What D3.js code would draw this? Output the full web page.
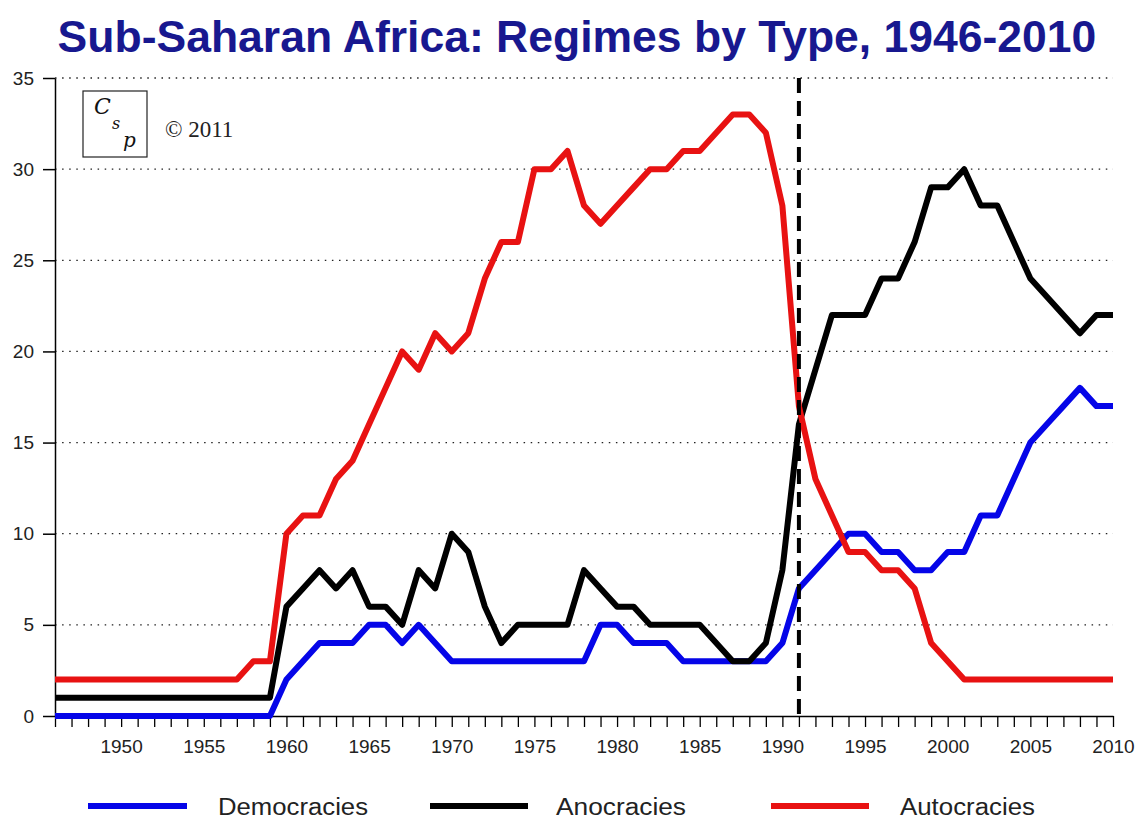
<!DOCTYPE html>
<html>
<head>
<meta charset="utf-8">
<script src="https://cdn.jsdelivr.net/npm/d3@7"></script>
<style>
  html, body { margin: 0; padding: 0; background: #fff; }
  svg { display: block; }
</style>
</head>
<body>
<svg id="chart" width="1136" height="820"></svg>
<script>
// ---- DATA ----
const years = [1946,1947,1948,1949,1950,1951,1952,1953,1954,1955,1956,1957,1958,1959,
  1960,1961,1962,1963,1964,1965,1966,1967,1968,1969,
  1970,1971,1972,1973,1974,1975,1976,1977,1978,1979,
  1980,1981,1982,1983,1984,1985,1986,1987,1988,1989,
  1990,1991,1992,1993,1994,1995,1996,1997,1998,1999,
  2000,2001,2002,2003,2004,2005,2006,2007,2008,2009,2010];

const democracies = [0,0,0,0,0,0,0,0,0,0,0,0,0,0,
  2,3,4,4,4,5,5,4,5,4,
  3,3,3,3,3,3,3,3,3,5,
  5,4,4,4,3,3,3,3,3,3,
  4,7,8,9,10,10,9,9,8,8,
  9,9,11,11,13,15,16,17,18,17,17];

const anocracies = [1,1,1,1,1,1,1,1,1,1,1,1,1,1,
  6,7,8,7,8,6,6,5,8,7,
  10,9,6,4,5,5,5,5,8,7,
  6,6,5,5,5,5,4,3,3,4,
  8,16,19,22,22,22,24,24,26,29,
  29,30,28,28,26,24,23,22,21,22,22];

const autocracies = [2,2,2,2,2,2,2,2,2,2,2,2,3,3,
  10,11,11,13,14,16,18,20,19,21,
  20,21,24,26,26,30,30,31,28,27,
  28,29,30,30,31,31,32,33,33,32,
  28,17,13,11,9,9,8,8,7,4,
  3,2,2,2,2,2,2,2,2,2,2];

const seriesNames = ["Democracies", "Anocracies", "Autocracies"];
const seriesColors = ["#0505e8", "#000000", "#e81212"];
const yTicks = [0, 5, 10, 15, 20, 25, 30, 35];
const xLabelYears = [1950, 1955, 1960, 1965, 1970, 1975, 1980, 1985, 1990, 1995, 2000, 2005, 2010];
const markerYear = 1991;
const titleText = "Sub-Saharan Africa: Regimes by Type, 1946-2010";
const copyrightText = "\u00A9 2011";
const logoLetters = ["C", "s", "p"];

// ---- LAYOUT ----
const svg = d3.select("#chart");
svg.append("rect").attr("width", 1136).attr("height", 820).attr("fill", "#fff");

const x = d3.scaleLinear().domain([1946, 2010]).range([55, 1113]);
const y = d3.scaleLinear().domain([0, 35]).range([716, 78]);

// Title
const title = svg.append("text")
  .attr("x", 577).attr("y", 52)
  .attr("text-anchor", "middle")
  .attr("font-family", "Arial, 'Liberation Sans', sans-serif")
  .attr("font-weight", "bold")
  .attr("font-size", 40)
  .attr("fill", "#18188f")
  .text(titleText);
const tw = title.node().getComputedTextLength();
title.attr("font-size", 40 * 1039 / tw);

// Gridlines (dotted)
svg.append("g").selectAll("line")
  .data(yTicks.filter(d => d > 0))
  .join("line")
  .attr("x1", x(1946)).attr("x2", x(2010))
  .attr("y1", d => y(d)).attr("y2", d => y(d))
  .attr("stroke", "#222")
  .attr("stroke-width", 1.3)
  .attr("stroke-dasharray", "1.5,5.6");

// Y axis
const yAxis = d3.axisLeft(y).tickValues(yTicks).tickSize(12).tickSizeOuter(0).tickPadding(9);
const gy = svg.append("g").attr("transform", `translate(${x(1946)},0)`).call(yAxis);
gy.select(".domain").attr("stroke", "#000").attr("stroke-width", 1.5);
gy.selectAll(".tick line").attr("stroke", "#000").attr("stroke-width", 1.5);
gy.selectAll(".tick text")
  .attr("font-family", "Arial, 'Liberation Sans', sans-serif")
  .attr("font-size", 19).attr("fill", "#222");

// X axis
const xAxis = d3.axisBottom(x).tickValues(years).tickSize(11).tickSizeOuter(0).tickPadding(12.5)
  .tickFormat(d => xLabelYears.includes(d) ? String(d) : "");
const gx = svg.append("g").attr("transform", `translate(0,${y(0)})`).call(xAxis);
gx.select(".domain").attr("stroke", "#000").attr("stroke-width", 1.5);
gx.selectAll(".tick line").attr("stroke", "#000").attr("stroke-width", 1.3);
gx.selectAll(".tick text")
  .attr("font-family", "Arial, 'Liberation Sans', sans-serif")
  .attr("font-size", 19).attr("fill", "#222");

// Lines
const allSeries = [democracies, anocracies, autocracies];
const line = d3.line().x((d, i) => x(years[i])).y(d => y(d));
svg.append("g").selectAll("path")
  .data(allSeries)
  .join("path")
  .attr("d", d => line(d))
  .attr("fill", "none")
  .attr("stroke", (d, i) => seriesColors[i])
  .attr("stroke-width", 6)
  .attr("stroke-linejoin", "round");

// Dashed marker line
svg.append("line")
  .attr("x1", x(markerYear)).attr("x2", x(markerYear))
  .attr("y1", y(35)).attr("y2", y(0))
  .attr("stroke", "#000")
  .attr("stroke-width", 4)
  .attr("stroke-dasharray", "15,8");

// Logo box
const logo = svg.append("g");
logo.append("rect").attr("x", 83).attr("y", 91).attr("width", 64).attr("height", 66)
  .attr("fill", "#fff").attr("stroke", "#222").attr("stroke-width", 1.2);
const logoPos = [[94, 114, 22], [112, 129, 16], [123, 147, 20]];
logoLetters.forEach((ch, i) => {
  const [lx, ly, fs] = logoPos[i];
  logo.append("text").attr("x", lx).attr("y", ly)
    .attr("font-family", "'DejaVu Serif', serif").attr("font-style", "italic")
    .attr("font-size", fs).attr("fill", "#111").text(ch);
});
svg.append("text").attr("x", 165).attr("y", 137)
  .attr("font-family", "'Times New Roman', 'Liberation Serif', serif")
  .attr("font-size", 23).attr("fill", "#222").text(copyrightText);

// Legend
const legendX = [[88, 187, 218, 150], [430, 528, 556, 130], [771, 869, 900, 135]];
const lg = svg.append("g");
seriesNames.forEach((name, i) => {
  const [lx1, lx2, tx, tl] = legendX[i];
  lg.append("line").attr("x1", lx1).attr("x2", lx2).attr("y1", 806).attr("y2", 806)
    .attr("stroke", seriesColors[i]).attr("stroke-width", 6);
  lg.append("text").attr("x", tx).attr("y", 815)
    .attr("font-family", "Arial, 'Liberation Sans', sans-serif")
    .attr("font-size", 23).attr("fill", "#222")
    .attr("textLength", tl).attr("lengthAdjust", "spacingAndGlyphs")
    .text(name);
});
</script>
</body>
</html>
